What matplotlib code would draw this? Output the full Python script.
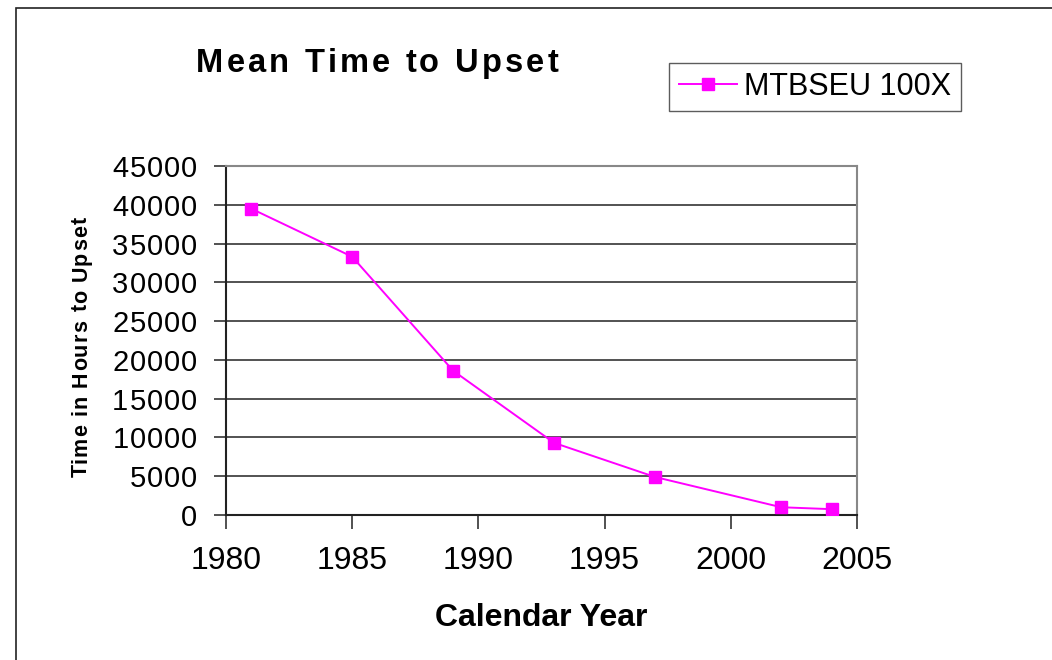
import matplotlib
matplotlib.use("Agg")
import matplotlib.pyplot as plt
from matplotlib.patches import Rectangle
from matplotlib.transforms import IdentityTransform
from matplotlib.font_manager import FontProperties

years = [1981, 1985, 1989, 1993, 1997, 2002, 2004]
mtbseu = [39500, 33300, 18600, 9300, 4900, 1000, 750]
series_label = "MTBSEU 100X"
yticks = list(range(0, 45001, 5000))
xticks = [1980, 1985, 1990, 1995, 2000, 2005]
title = "Mean Time to Upset"
xlabel = "Calendar Year"
ylabel = "Time in Hours to Upset"

plt.rcParams['font.family'] = ['Liberation Sans', 'DejaVu Sans']

W, H = 1052, 660
fig = plt.figure(figsize=(W / 100, H / 100), dpi=100)
renderer = fig.canvas.get_renderer()


def tracked_text(x, y, s, size, spacing, weight='normal', ha='left', va='baseline', vertical=False):
    """Draw text in display pixels (origin bottom-left) with extra letter spacing."""
    prop = FontProperties(family=['Liberation Sans'], size=size, weight=weight)
    ref_w = renderer.get_text_width_height_descent("x", prop, ismath=False)[0]
    offs = []
    for i in range(len(s)):
        w = renderer.get_text_width_height_descent(s[:i] + "x", prop, ismath=False)[0] - ref_w
        offs.append(w + i * spacing)
    total = renderer.get_text_width_height_descent(s, prop, ismath=False)[0] + (len(s) - 1) * spacing
    shift = {'left': 0, 'center': -total / 2, 'right': -total}[ha]
    for ch, o in zip(s, offs):
        if ch == " ":
            continue
        if vertical:
            fig.text(x, y + shift + o, ch, fontproperties=prop, rotation=90, rotation_mode='anchor',
                     ha='left', va=va, transform=IdentityTransform())
        else:
            fig.text(x + shift + o, y, ch, fontproperties=prop, ha='left', va=va,
                     transform=IdentityTransform())


fig.patches.append(Rectangle((16 / W, -0.01), 1.2, 1 - 8 / H + 0.01, transform=fig.transFigure,
                             fill=False, edgecolor='#222222', linewidth=1.2))

ax = fig.add_axes([226 / W, 1 - 515 / H, 631 / W, 349 / H])
ax.plot(years, mtbseu, color='#FF00FF', linewidth=1.4, marker='s', markersize=9,
        markerfacecolor='#FF00FF', markeredgecolor='#FF00FF', label=series_label, zorder=3)
ax.set_xlim(1980, 2005)
ax.set_ylim(0, 45000)
ax.set_xticks(xticks)
ax.set_yticks(yticks)
ax.set_yticklabels([])
ax.tick_params(axis='both', direction='out', width=1.2, color='#333333')
ax.tick_params(axis='x', labelsize=23, length=10, pad=12)
ax.tick_params(axis='y', length=9)
ax.grid(axis='y', color='#444444', linewidth=1.3)
ax.set_axisbelow(True)
for s in ['top', 'right']:
    ax.spines[s].set_color('#888888')
    ax.spines[s].set_linewidth(1.5)
for s in ['left', 'bottom']:
    ax.spines[s].set_color('#222222')
    ax.spines[s].set_linewidth(1.5)

ax.set_xlabel(xlabel, fontsize=23, fontweight='bold', labelpad=20)

# y tick labels with letter spacing, positioned through the axis transform
for v in yticks:
    py = ax.transData.transform((1980, v))[1]
    tracked_text(197, py, str(v), 21, 1.0, ha='right', va='center_baseline')

# y axis label (vertical, letter-spaced)
tracked_text(87, H - 347, ylabel, 15.5, 1.2, weight='bold', ha='center', va='baseline', vertical=True)

# title
tracked_text(196, H - 72, title, 23.5, 3.2, weight='bold', ha='left', va='baseline')

leg = fig.legend(loc='center', bbox_to_anchor=(815 / W, 1 - 87 / H), fontsize=22,
                 frameon=True, fancybox=False, edgecolor='#333333', handlelength=1.9,
                 handletextpad=0.25, borderpad=0.3, markerscale=1.0)
leg.get_frame().set_linewidth(1.0)

fig.savefig("out.png", dpi=100)
